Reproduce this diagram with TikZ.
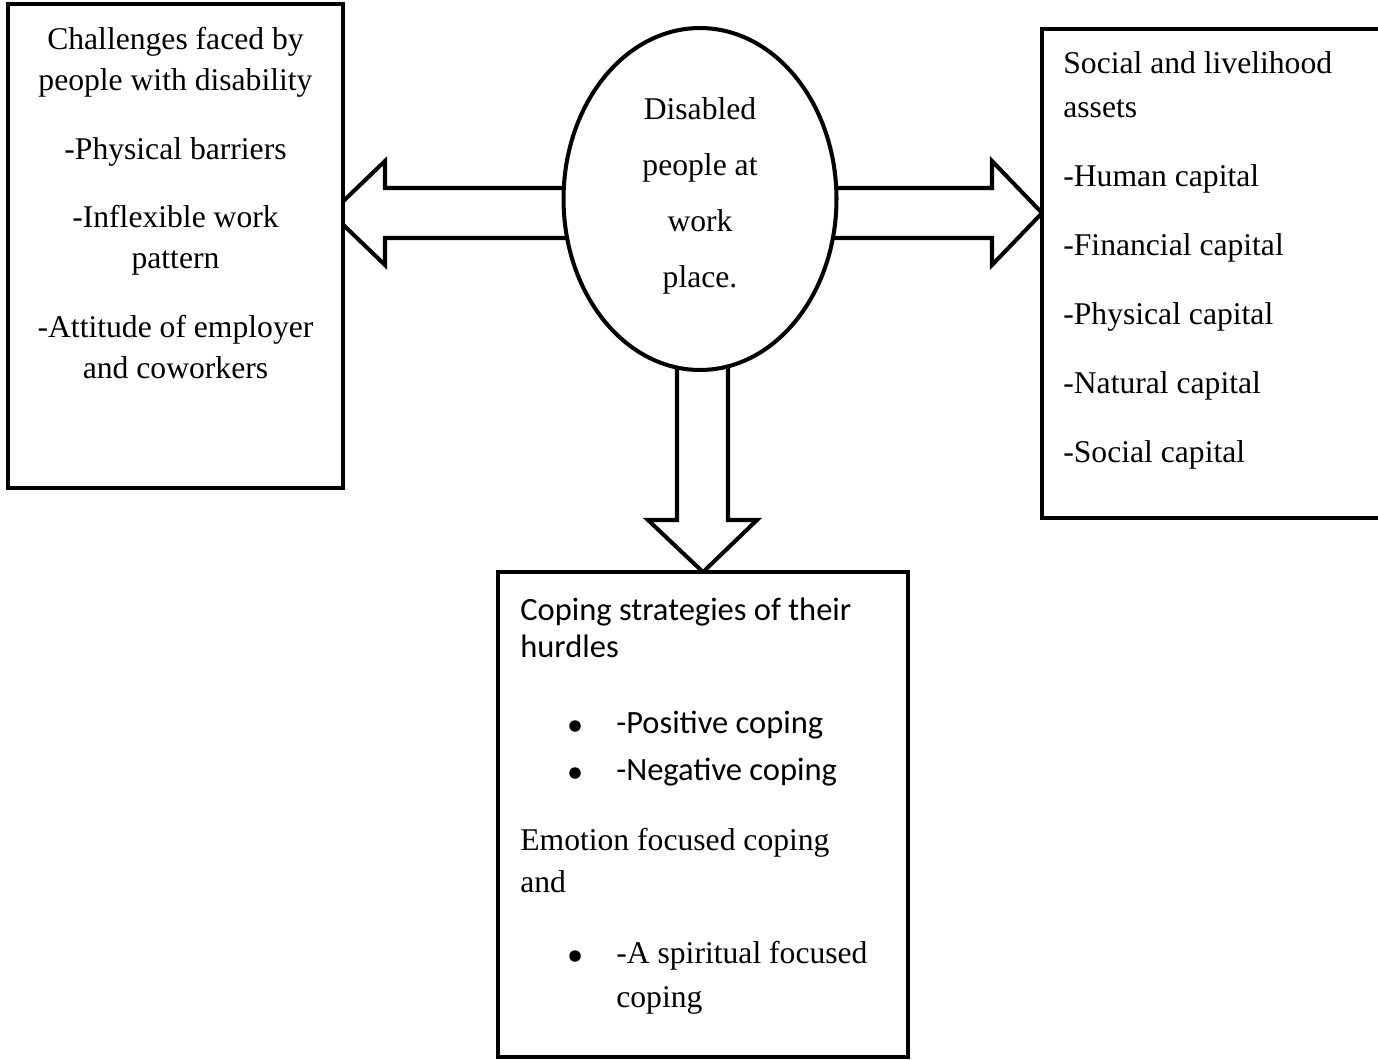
\documentclass[tikz,border=0pt]{standalone}
\usepackage{fontspec}
\setmainfont{Liberation Serif}
\newfontfamily\calibri{Carlito}
\usetikzlibrary{shapes.geometric,backgrounds,calc}

\begin{document}
\begin{tikzpicture}[x=0.02cm,y=-0.02cm,
	box/.style={draw,line width=2.3pt,inner sep=0,outer sep=0,fill=white},
	fatarrow/.style={draw,line width=2.3pt},
	dot/.style={circle,fill=black,inner sep=0,minimum size=0.23cm},
	serif/.style={font=\fontsize{18}{23.2}\selectfont,inner sep=0},
	sans/.style={font=\calibri\fontsize{18.5}{21}\selectfont,inner sep=0}]
	\useasboundingbox (0,0) rectangle (1378,1059);
	\clip (0,0) rectangle (1378,1059);
	\node[box,minimum width=6.7cm,minimum height=9.68cm] (chal) at (175.5,246) {};
	\node[box,minimum width=7cm,minimum height=9.78cm] (asset) at (1217,273.5) {};
	\node[box,minimum width=8.2cm,minimum height=9.7cm] (cope) at (703,814.5) {};
	\node[box,ellipse,minimum width=5.46cm,minimum height=6.84cm] (ctr) at (700,199) {};
	\begin{scope}[on background layer]
	\draw[fatarrow] (ctr.center |- 0,188) -- (385,188) -- (385,161) -- ($(chal.east |- 0,213)+(-12,0)$) -- (385,265) -- (385,238) -- (ctr.center |- 0,238);
	\draw[fatarrow] (ctr.center |- 0,188) -- (992,188) -- (992,161) -- (asset.west |- 0,213) -- (992,265) -- (992,238) -- (ctr.center |- 0,238);
	\draw[fatarrow] (ctr.center -| 677,0) -- (677,520) -- (648,520) -- (cope.north) -- (757,520) -- (728,520) -- (ctr.center -| 728,0);
	\end{scope}
	% texts (base = last line)
	\node[serif,align=center,anchor=base,font=\fontsize{18}{31.7}\selectfont] (ctrtxt) at (700,287) {Disabled\\people at\\work\\place.};
	\node[serif,align=center,anchor=base] (chaltxt) at (175.5,378) {Challenges faced by\\people with disability\\[15.9pt]-Physical barriers\\[15.9pt]-Inflexible work\\pattern\\[15.9pt]-Attitude of employer\\and coworkers};
	\node[serif,align=left,anchor=base west,font=\fontsize{18}{25}\selectfont] (assettxt) at (1063,462) {Social and livelihood\\assets\\[14.2pt]-Human capital\\[14.2pt]-Financial capital\\[14.2pt]-Physical capital\\[14.2pt]-Natural capital\\[14.2pt]-Social capital};
	\node[sans,align=left,anchor=base west] (copetxt) at (520,657) {Coping strategies of their\\hurdles};
	\node[dot] (b1) at (575,726) {};
	\node[sans,anchor=base west] (pos) at (616,733) {-Positive coping};
	\node[dot] (b2) at (575,773) {};
	\node[sans,anchor=base west] (neg) at (616,780) {-Negative coping};
	\node[serif,align=left,anchor=base west,font=\fontsize{18}{23.8}\selectfont] (emo) at (520,892) {Emotion focused coping\\and};
	\node[dot] (b3) at (575,956) {};
	\node[serif,align=left,anchor=base west,font=\fontsize{18}{25}\selectfont] (spir) at (616,1007) {-A spiritual focused\\coping};
\end{tikzpicture}
\end{document}
